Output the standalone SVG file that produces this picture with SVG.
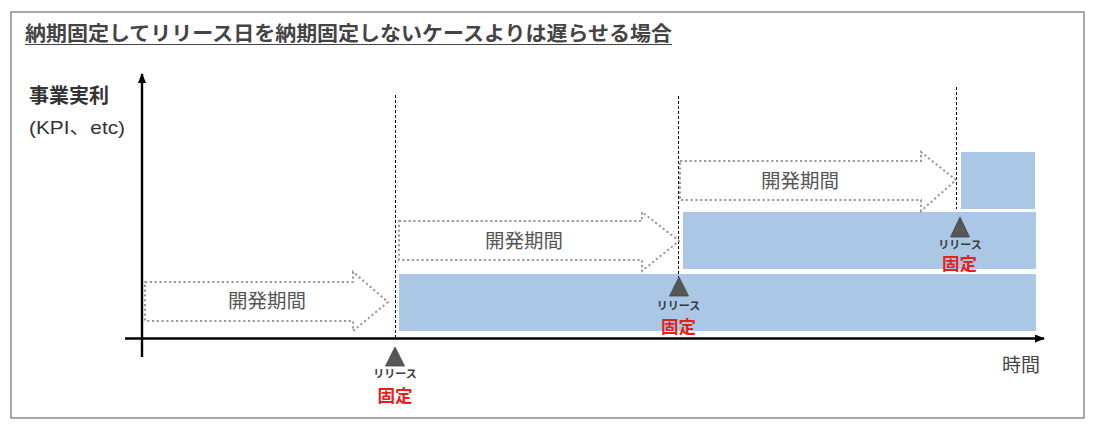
<svg xmlns="http://www.w3.org/2000/svg" width="1095" height="438" viewBox="0 0 1095 438">
<defs>
<style>
text{font-family:"Liberation Sans","Noto Sans CJK JP",sans-serif;}
.jp{font-family:"Noto Sans CJK JP","Liberation Sans",sans-serif;}
.bar{fill:#aac8e6;}
.dev{fill:#ffffff;stroke:#9a9a9a;stroke-width:2;stroke-dasharray:2.2 2.6;}
.devt{font-size:19.5px;fill:#555555;text-anchor:middle;}
.vline{stroke:#000;stroke-width:1;stroke-dasharray:3 2;fill:none;}
.tri{fill:#575757;stroke:#444;stroke-width:0.8;}
.rel{font-size:11px;font-weight:bold;fill:#3a3a3a;text-anchor:middle;}
.fix{font-size:17.5px;font-weight:bold;fill:#e8201a;text-anchor:middle;}
.axis{stroke:#000;stroke-width:2.4;fill:none;}
</style>
<marker id="ah" markerWidth="10" markerHeight="8" refX="9" refY="4" orient="auto" markerUnits="userSpaceOnUse">
<path d="M0,0 L10,4 L0,8 Z" fill="#000"/>
</marker>
</defs>
<rect width="1095" height="438" fill="#ffffff"/>
<rect id="frame" x="11" y="12" width="1073" height="406" fill="none" stroke="#707070" stroke-width="1.2"/>
<g id="title">
<text class="jp" x="25" y="41" font-size="20" font-weight="bold" fill="#444444" textLength="647" lengthAdjust="spacingAndGlyphs">納期固定してリリース日を納期固定しないケースよりは遅らせる場合</text>
<line x1="25" y1="44.5" x2="672" y2="44.5" stroke="#444444" stroke-width="1.2"/>
</g>
<g id="bars">
<rect id="bar1" class="bar" x="399" y="274" width="637" height="57"/>
<rect id="bar2" class="bar" x="683" y="212" width="353" height="57"/>
<rect id="bar3" class="bar" x="961" y="152" width="74" height="57"/>
</g>
<g id="connectors">
<line class="axis" x1="142" y1="357" x2="142" y2="74" marker-end="url(#ah)"/>
<line class="axis" x1="125" y1="338.5" x2="1044" y2="338.5" marker-end="url(#ah)"/>
<line class="vline" x1="395.5" y1="95" x2="395.5" y2="338"/>
<line class="vline" x1="678.5" y1="96" x2="678.5" y2="277"/>
<line class="vline" x1="956.5" y1="87" x2="956.5" y2="209"/>
</g>
<g id="ylabel">
<text class="jp" x="29" y="103" font-size="20" font-weight="bold" fill="#333333">事業実利</text>
<text x="29" y="134" font-size="19" fill="#333333" textLength="96" lengthAdjust="spacingAndGlyphs">(KPI、etc)</text>
</g>
<g id="xlabel">
<text class="jp" x="1002" y="372" font-size="19" fill="#444444">時間</text>
</g>
<g id="dev1">
<polygon class="dev" points="145,282 353,282 353,272 388,302 353,331 353,321 145,321"/>
<text class="jp devt" x="267" y="308">開発期間</text>
</g>
<g id="dev2">
<polygon class="dev" points="399,221 642,221 642,212 679,241 642,271 642,260 399,260"/>
<text class="jp devt" x="524" y="248">開発期間</text>
</g>
<g id="dev3">
<polygon class="dev" points="680,161 921,161 921,152 956,180 921,211 921,200 680,200"/>
<text class="jp devt" x="800" y="188">開発期間</text>
</g>
<g id="release1">
<polygon class="tri" points="395,347 404.5,366 385.5,366"/>
<text class="jp rel" x="395" y="378">リリース</text>
<text class="jp fix" x="395" y="402">固定</text>
</g>
<g id="release2">
<polygon class="tri" points="679,277 688.5,296 669.5,296"/>
<text class="jp rel" x="678.5" y="310">リリース</text>
<text class="jp fix" x="678.5" y="333">固定</text>
</g>
<g id="release3">
<polygon class="tri" points="960,217 969.5,237 950.5,237"/>
<text class="jp rel" x="960" y="248.5">リリース</text>
<text class="jp fix" x="959.5" y="269.5">固定</text>
</g>
</svg>
